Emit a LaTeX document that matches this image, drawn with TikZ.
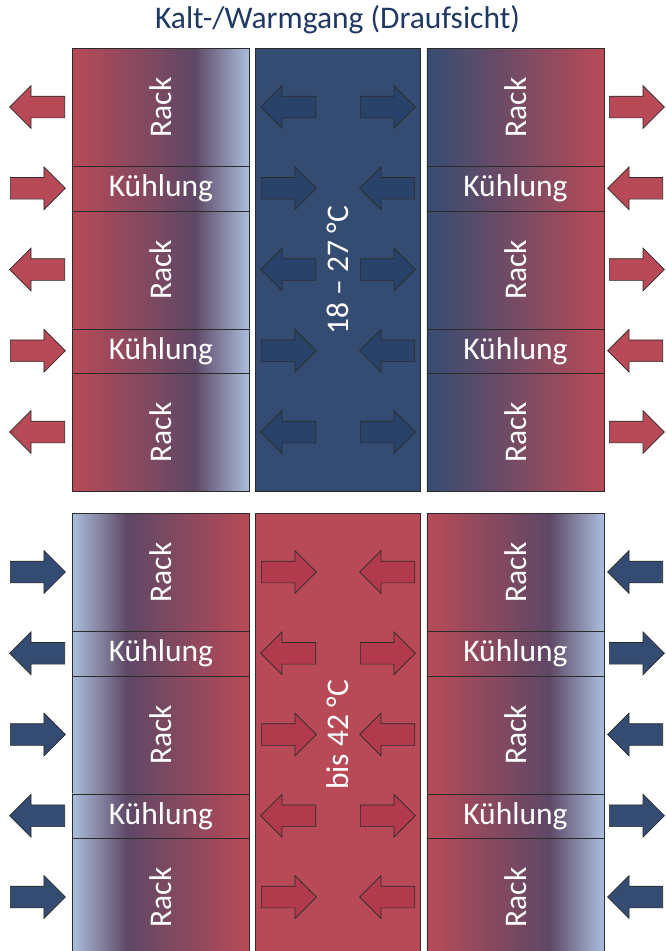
\documentclass[tikz,border=0pt]{standalone}
\usepackage{fontspec}
\setmainfont{Carlito}
\usetikzlibrary{positioning,shapes.arrows}
\definecolor{warm}{HTML}{B84A57}
\definecolor{cold}{HTML}{354C72}
\definecolor{pale}{HTML}{AABEDC}
\definecolor{plum}{HTML}{5E4866}
\definecolor{coldarrow}{HTML}{28426A}
\definecolor{warmarrow}{HTML}{B13A4D}
\definecolor{rim}{HTML}{2B2B2B}
\definecolor{navy}{HTML}{203864}
\pgfdeclarehorizontalshading{warmpale}{100bp}{color(0bp)=(warm); color(25bp)=(warm); color(59.5bp)=(plum); color(75bp)=(pale); color(100bp)=(pale)}
\pgfdeclarehorizontalshading{palewarm}{100bp}{color(0bp)=(pale); color(25bp)=(pale); color(40.5bp)=(plum); color(75bp)=(warm); color(100bp)=(warm)}
\pgfdeclarehorizontalshading{coldwarm}{100bp}{color(0bp)=(cold); color(25bp)=(cold); color(75bp)=(warm); color(100bp)=(warm)}

\begin{document}
\begin{tikzpicture}[x=1pt,y=-1pt,
    cell/.style={draw=rim,line width=0.8pt,shade,anchor=north west,inner sep=0pt,minimum width=177pt},
    celltext/.style={text=white,font=\fontsize{31.5}{38}\selectfont,inner sep=0pt},
    flow/.style={single arrow,single arrow head extend=10.5pt,minimum height=55pt,
      inner xsep=0pt,inner ysep=10.5pt,draw=rim,line width=0.7pt,anchor=tail}]
  \clip (0,0) rectangle (665,951);

  \node[text=navy,font=\fontsize{31.5}{38}\selectfont] (title) at (337.5,20) {Kalt-/Warmgang (Draufsicht)};

  % two rows of racks, cold aisle on top, hot aisle below
  \foreach \sec/\dy/\lshd/\rshd/\fillc/\temp in {t/0/warmpale/coldwarm/cold/{18 – 27 °C},
      b/465/palewarm/warmpale/warm/{bis 42 °C}} {
    \node[draw=rim,line width=0.8pt,fill=\fillc,anchor=north west,inner sep=0pt,
      minimum width=165pt,minimum height=443pt] (aisle-\sec) at (255,48+\dy) {};
    \node[celltext,rotate=90] (temp-\sec) at (aisle-\sec) {\temp};
    \foreach \y [count=\i] in {48,210.5,373} {
      \node[cell,shading=\lshd,minimum height=118pt] (rackl-\sec\i) at (72,\y+\dy) {};
      \node[cell,shading=\rshd,minimum height=118pt] (rackr-\sec\i) at (426.5,\y+\dy) {};
      \node[celltext,rotate=90] (rackl-\sec\i-txt) at (rackl-\sec\i) {Rack};
      \node[celltext,rotate=90] (rackr-\sec\i-txt) at (rackr-\sec\i) {Rack};
    }
    \foreach \y [count=\i] in {166,328.5} {
      \node[cell,shading=\lshd,minimum height=44.5pt] (cooll-\sec\i) at (72,\y+\dy) {};
      \node[cell,shading=\rshd,minimum height=44.5pt] (coolr-\sec\i) at (426.5,\y+\dy) {};
      \node[celltext] (cooll-\sec\i-txt) at (cooll-\sec\i) {Kühlung};
      \node[celltext] (coolr-\sec\i-txt) at (coolr-\sec\i) {Kühlung};
    }
  }

  % air flow pointing away from the aisle middle
  \foreach \yc/\outc/\inc [count=\k] in {107/warm/coldarrow, 269.5/warm/coldarrow, 432/warm/coldarrow,
      653.25/cold/warmarrow, 815.75/cold/warmarrow} {
    \node[flow,fill=\outc,shape border rotate=180] (outa-\k) at (65,\yc) {};
    \node[flow,fill=\inc,shape border rotate=180] (outb-\k) at (316,\yc) {};
    \node[flow,fill=\inc] (outc-\k) at (360,\yc) {};
    \node[flow,fill=\outc] (outd-\k) at (609,\yc) {};
  }
  % air flow pointing to the aisle middle
  \foreach \yc/\outc/\inc [count=\k] in {188.25/warm/coldarrow, 350.75/warm/coldarrow,
      572/cold/warmarrow, 734.5/cold/warmarrow, 897/cold/warmarrow} {
    \node[flow,fill=\outc] (ina-\k) at (10,\yc) {};
    \node[flow,fill=\inc] (inb-\k) at (261,\yc) {};
    \node[flow,fill=\inc,shape border rotate=180] (inc-\k) at (415,\yc) {};
    \node[flow,fill=\outc,shape border rotate=180] (ind-\k) at (663,\yc) {};
  }
\end{tikzpicture}
\end{document}
